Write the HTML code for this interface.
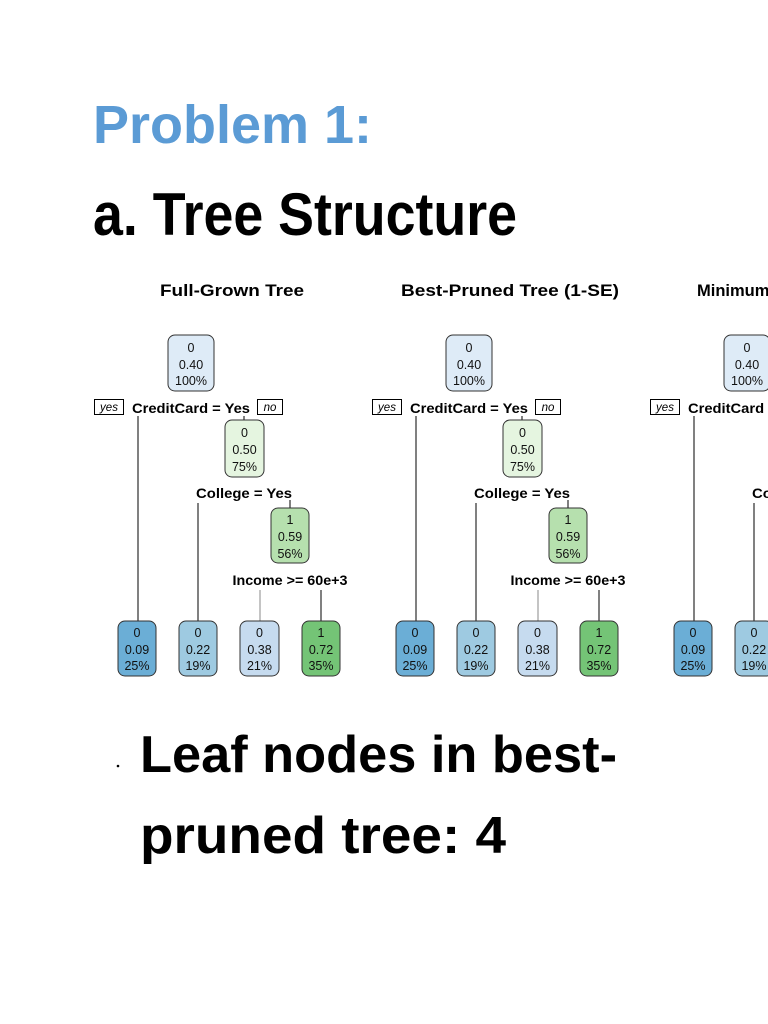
<!DOCTYPE html>
<html><head><meta charset="utf-8"><style>
html,body{margin:0;padding:0;background:#fff;width:768px;height:1024px;overflow:hidden}
svg{display:block}
.t{font-family:"Liberation Sans",sans-serif}
.n{font-family:"Liberation Sans",sans-serif;font-size:12.5px;fill:#111;text-anchor:middle}
.s{font-family:"Liberation Sans",sans-serif;font-size:13.5px;font-weight:bold;fill:#000;text-anchor:middle}
.b{stroke:#333;stroke-width:1}
</style></head><body>
<svg width="768" height="1024" viewBox="0 0 768 1024" xmlns="http://www.w3.org/2000/svg">
<defs>
<g id="tree">
  <line x1="138" y1="416" x2="138" y2="621" stroke="#000"/>
  <line x1="244" y1="416" x2="244" y2="420" stroke="#000"/>
  <line x1="198" y1="503" x2="198" y2="621" stroke="#000"/>
  <line x1="290" y1="500" x2="290" y2="508" stroke="#000"/>
  <line x1="260" y1="590" x2="260" y2="621" stroke="#888"/>
  <line x1="321" y1="590" x2="321" y2="621" stroke="#000"/>
  <rect x="168" y="335" width="46" height="56" rx="7" fill="#deebf7" class="b"/>
  <text class="n" x="191" y="352">0</text><text class="n" x="191" y="369">0.40</text><text class="n" x="191" y="385">100%</text>
  <rect x="94.5" y="399.5" width="29" height="15" fill="#fff" stroke="#000"/>
  <text class="t" x="109" y="411" font-size="11.5" font-style="italic" text-anchor="middle">yes</text>
  <text class="s" x="191" y="413" textLength="118" lengthAdjust="spacingAndGlyphs">CreditCard = Yes</text>
  <rect x="257.5" y="399.5" width="25" height="15" fill="#fff" stroke="#000"/>
  <text class="t" x="270" y="411" font-size="11.5" font-style="italic" text-anchor="middle">no</text>
  <rect x="225" y="420" width="39" height="57" rx="7" fill="#e5f5e0" class="b"/>
  <text class="n" x="244.5" y="437">0</text><text class="n" x="244.5" y="454">0.50</text><text class="n" x="244.5" y="471">75%</text>
  <text class="s" x="244" y="498" textLength="96" lengthAdjust="spacingAndGlyphs">College = Yes</text>
  <rect x="271" y="508" width="38" height="55" rx="7" fill="#b6e0ae" class="b"/>
  <text class="n" x="290" y="524">1</text><text class="n" x="290" y="541">0.59</text><text class="n" x="290" y="558">56%</text>
  <text class="s" x="290" y="585" textLength="115" lengthAdjust="spacingAndGlyphs">Income &gt;= 60e+3</text>
  <rect x="118" y="621" width="38" height="55" rx="7" fill="#6baed6" class="b"/>
  <text class="n" x="137" y="637">0</text><text class="n" x="137" y="654">0.09</text><text class="n" x="137" y="670">25%</text>
  <rect x="179" y="621" width="38" height="55" rx="7" fill="#9ecae1" class="b"/>
  <text class="n" x="198" y="637">0</text><text class="n" x="198" y="654">0.22</text><text class="n" x="198" y="670">19%</text>
  <rect x="240" y="621" width="39" height="55" rx="7" fill="#c6dbef" class="b"/>
  <text class="n" x="259.5" y="637">0</text><text class="n" x="259.5" y="654">0.38</text><text class="n" x="259.5" y="670">21%</text>
  <rect x="302" y="621" width="38" height="55" rx="7" fill="#74c476" class="b"/>
  <text class="n" x="321" y="637">1</text><text class="n" x="321" y="654">0.72</text><text class="n" x="321" y="670">35%</text>
</g>
</defs>

<text class="t" x="93" y="143" font-size="54" font-weight="bold" fill="#5b9bd5" textLength="279" lengthAdjust="spacingAndGlyphs">Problem 1:</text>
<text class="t" x="93" y="235" font-size="60" font-weight="bold" fill="#000" textLength="424" lengthAdjust="spacingAndGlyphs">a. Tree Structure</text>

<text class="t" x="160" y="296" font-size="16.5" font-weight="bold" textLength="144" lengthAdjust="spacingAndGlyphs">Full-Grown Tree</text>
<text class="t" x="401" y="296" font-size="16.5" font-weight="bold" textLength="218" lengthAdjust="spacingAndGlyphs">Best-Pruned Tree (1-SE)</text>
<text class="t" x="697" y="296" font-size="16.5" font-weight="bold">Minimum Error Tree</text>

<use href="#tree"/>
<use href="#tree" transform="translate(278,0)"/>
<use href="#tree" transform="translate(556,0)"/>

<circle cx="118" cy="766" r="1.3" fill="#000"/>
<text class="t" x="140" y="772" font-size="52" font-weight="bold" fill="#000" textLength="477" lengthAdjust="spacingAndGlyphs">Leaf nodes in best-</text>
<text class="t" x="140" y="853" font-size="52" font-weight="bold" fill="#000" textLength="366" lengthAdjust="spacingAndGlyphs">pruned tree: 4</text>
</svg>
</body></html>
